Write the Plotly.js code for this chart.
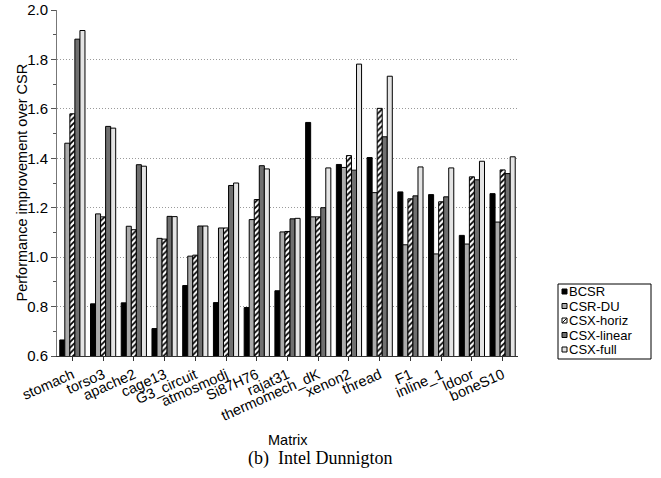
<!DOCTYPE html>
<html>
<head>
<meta charset="utf-8">
<script src="https://cdn.plot.ly/plotly-3.0.1.min.js"></script>
<style>
  html, body { margin: 0; padding: 0; background: #fff; }
  #chart { width: 661px; height: 478px; }
</style>
</head>
<body>
<div id="chart"></div>
<script>
// Sparse-matrix kernels on the Intel Dunnington: speedup over plain CSR
const matrices = ["stomach", "torso3", "apache2", "cage13", "G3_circuit", "atmosmodj",
  "Si87H76", "rajat31", "thermomech_dK", "xenon2", "thread", "F1", "inline_1", "ldoor", "boneS10"];

const seriesNames = ["BCSR", "CSR-DU", "CSX-horiz", "CSX-linear", "CSX-full"];

const bcsr      = [0.665, 0.811, 0.815, 0.711, 0.885, 0.816, 0.796, 0.864, 1.545, 1.375, 1.403, 1.264, 1.253, 1.088, 1.257];
const csrDu     = [1.461, 1.175, 1.125, 1.076, 1.004, 1.118, 1.152, 1.102, 1.163, 1.363, 1.261, 1.050, 1.013, 1.053, 1.142];
const csxHoriz  = [1.580, 1.163, 1.111, 1.073, 1.008, 1.118, 1.233, 1.104, 1.163, 1.411, 1.602, 1.236, 1.224, 1.325, 1.353];
const csxLinear = [1.882, 1.529, 1.374, 1.165, 1.126, 1.290, 1.370, 1.155, 1.200, 1.352, 1.487, 1.248, 1.244, 1.313, 1.338];
const csxFull   = [1.917, 1.522, 1.368, 1.164, 1.126, 1.300, 1.357, 1.157, 1.361, 1.781, 1.732, 1.365, 1.361, 1.388, 1.406];

const seriesValues = [bcsr, csrDu, csxHoriz, csxLinear, csxFull];

const fills = ["#000000", "#ababab", "#ffffff", "#6f6f6f", "#e4e4e4"];
const hatched = [false, false, true, false, false];

const W = 661, H = 478;
const M = { l: 57, r: 143, t: 10, b: 122 };
const plotW = W - M.l - M.r, plotH = H - M.t - M.b;
const px = x => (x - M.l) / plotW;          // pixel -> paper x
const py = y => (H - M.b - y) / plotH;      // pixel -> paper y

const sans = "Liberation Sans, Arial, Helvetica, sans-serif";

const traces = seriesNames.map((name, i) => {
  const marker = { color: fills[i], line: { color: "#000", width: 1 } };
  if (hatched[i]) {
    marker.pattern = { shape: "/", bgcolor: "#ffffff", fgcolor: "#000000", size: 4, solidity: 0.45, fillmode: "replace" };
  }
  return {
    type: "bar",
    name: name,
    x: matrices,
    y: seriesValues[i],
    base: 0,
    marker: marker,
    showlegend: false,
    hoverinfo: "x+y+name"
  };
});

// Hand-built legend box on the right
const shapes = [];
const annotations = [];
const rowStep = 14.5, row0 = 291.5;
const boxL = 558, boxR = 651, boxT = 284, boxB = 359;
shapes.push({ type: "rect", xref: "paper", yref: "paper",
  x0: px(boxL), x1: px(boxR), y0: py(boxB), y1: py(boxT),
  line: { color: "#000", width: 1 }, fillcolor: "#fff", layer: "above" });
seriesNames.forEach((name, i) => {
  const cy = row0 + i * rowStep;
  const s0 = 562, s1 = 567;
  shapes.push({ type: "rect", xref: "paper", yref: "paper",
    x0: px(s0), x1: px(s1), y0: py(cy + 2.5), y1: py(cy - 2.5),
    line: { color: "#000", width: 1 }, fillcolor: fills[i], layer: "above" });
  if (hatched[i]) {
    shapes.push({ type: "line", xref: "paper", yref: "paper",
      x0: px(s0 + 0.5), x1: px(s1 - 0.5), y0: py(cy + 2), y1: py(cy - 2),
      line: { color: "#000", width: 1 }, layer: "above" });
  }
  annotations.push({ xref: "paper", yref: "paper", x: px(568), y: py(cy),
    xanchor: "left", yanchor: "middle", showarrow: false, text: name,
    borderpad: 0,
    font: { family: sans, size: 13, color: "#000" } });
});

// Axis captions
annotations.push({ xref: "paper", yref: "paper", x: px(21.5), y: py(183),
  xanchor: "center", yanchor: "middle", showarrow: false, textangle: -90,
  borderpad: 0,
  text: "Performance improvement over CSR",
  font: { family: sans, size: 14.5, color: "#000" } });
annotations.push({ xref: "paper", yref: "paper", x: px(288), y: py(440),
  xanchor: "center", yanchor: "middle", showarrow: false, text: "Matrix",
  font: { family: sans, size: 14.5, color: "#000" } });
annotations.push({ xref: "paper", yref: "paper", x: px(320), y: py(458),
  xanchor: "center", yanchor: "middle", showarrow: false, text: "(b)&nbsp;&nbsp;Intel Dunnigton",
  font: { family: "Liberation Serif, Times New Roman, serif", size: 18, color: "#000" } });

const layout = {
  width: W, height: H,
  margin: M,
  paper_bgcolor: "#fff",
  plot_bgcolor: "#fff",
  barmode: "group",
  bargap: 0.18,
  bargroupgap: 0,
  font: { family: sans, size: 14.5, color: "#000" },
  xaxis: {
    type: "category",
    tickangle: -24,
    ticks: "outside", ticklen: 4, tickcolor: "#333",
    showline: true, linecolor: "#333", linewidth: 1,
    showgrid: false, zeroline: false,
    tickfont: { family: sans, size: 14.5, color: "#000" }
  },
  yaxis: {
    range: [0.6, 2.0],
    dtick: 0.2, tick0: 0.6,
    tickformat: ".1f",
    ticks: "outside", ticklen: 5, tickcolor: "#555",
    minor: { dtick: 0.1, ticks: "outside", ticklen: 3, tickcolor: "#555", showgrid: false },
    showline: true, linecolor: "#777", linewidth: 1,
    showgrid: true, gridcolor: "#9a9a9a", griddash: "1px,2px", gridwidth: 1,
    zeroline: false,
    tickfont: { family: sans, size: 15, color: "#000" }
  },
  shapes: shapes,
  annotations: annotations,
  showlegend: false
};

Plotly.newPlot("chart", traces, layout, { displayModeBar: false, staticPlot: true });
</script>
</body>
</html>
